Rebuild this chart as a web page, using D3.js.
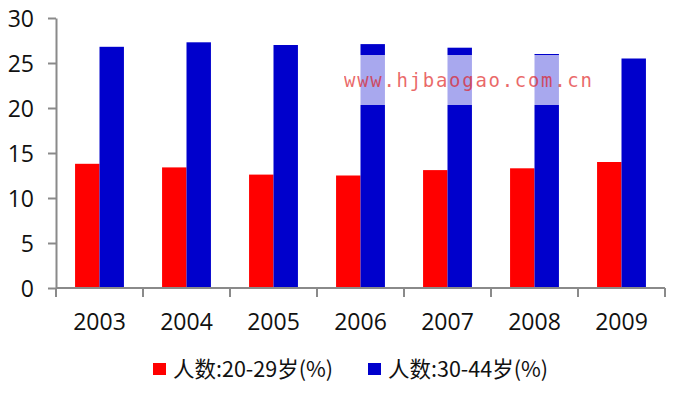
<!DOCTYPE html>
<html>
<head>
<meta charset="utf-8">
<script src="https://cdn.jsdelivr.net/npm/d3@7"></script>
<style>
  body { margin: 0; background: #fff; }
  svg text { font-family: "Open Sans", "Noto Sans", sans-serif; }
</style>
</head>
<body>
<div id="chart"></div>
<script>
// data
var years = ["2003", "2004", "2005", "2006", "2007", "2008", "2009"];
var age2029 = [13.8, 13.4, 12.6, 12.5, 13.1, 13.3, 14.0];
var age3044 = [26.8, 27.3, 27.0, 27.1, 26.7, 26.0, 25.5];
var seriesNames = ["人数:20-29岁(%)", "人数:30-44岁(%)"];
var seriesColors = ["#ff0000", "#0000cc"];
var yTicks = [0, 5, 10, 15, 20, 25, 30];

var svgWidth = 673;
var svgHeight = 397;

var margin = { top: 18, right: 8, bottom: 109, left: 56 };
var width = svgWidth - margin.left - margin.right;
var height = svgHeight - margin.top - margin.bottom;

var svg = d3.select("#chart")
  .append("svg")
  .attr("width", svgWidth)
  .attr("height", svgHeight);

var chartGroup = svg.append("g")
  .attr("transform", `translate(${margin.left}, ${margin.top})`);

// scales
var x0 = d3.scaleBand()
  .domain(years)
  .range([0, width])
  .padding(0);

var x1 = d3.scaleBand()
  .domain([0, 1])
  .range([0, x0.bandwidth()])
  .paddingInner(0)
  .paddingOuter(0.78);

var y = d3.scaleLinear()
  .domain([0, 30])
  .range([height, 0]);

var rows = years.map(function(yr, i) {
  return { year: yr, values: [age2029[i], age3044[i]] };
});

// bars
var groups = chartGroup.selectAll(".year")
  .data(rows)
  .enter()
  .append("g")
  .attr("class", "year")
  .attr("transform", d => `translate(${x0(d.year)}, 0)`);

groups.selectAll("rect")
  .data(d => d.values.map((v, k) => ({ k: k, v: v })))
  .enter()
  .append("rect")
  .attr("x", d => x1(d.k))
  .attr("width", x1.bandwidth())
  .attr("y", d => y(d.v))
  .attr("height", d => height - y(d.v))
  .attr("fill", d => seriesColors[d.k]);

// y axis
var leftAxis = d3.axisLeft(y)
  .tickValues(yTicks)
  .tickSize(8)
  .tickSizeOuter(0)
  .tickPadding(14);

var yAxis = chartGroup.append("g").call(leftAxis);
yAxis.selectAll("path, line").attr("stroke", "#8a8a8a").attr("stroke-width", 2);
yAxis.selectAll("text")
  .style("font-size", "23px")
  .attr("dy", "0.36em")
  .attr("fill", "#111");

// x axis: line, boundary ticks, centred labels
var xAxis = chartGroup.append("g")
  .attr("transform", `translate(0, ${height})`);

xAxis.append("line")
  .attr("x1", 0)
  .attr("x2", width)
  .attr("stroke", "#8a8a8a")
  .attr("stroke-width", 2);

var bounds = years.map(d => x0(d)).concat([width]);
xAxis.selectAll(".xtick")
  .data(bounds)
  .enter()
  .append("line")
  .attr("class", "xtick")
  .attr("x1", d => d)
  .attr("x2", d => d)
  .attr("y1", 0)
  .attr("y2", 9)
  .attr("stroke", "#8a8a8a")
  .attr("stroke-width", 2);

xAxis.selectAll(".xlabel")
  .data(years)
  .enter()
  .append("text")
  .attr("class", "xlabel")
  .attr("x", d => x0(d) + x0.bandwidth() / 2)
  .attr("y", 42)
  .attr("text-anchor", "middle")
  .attr("fill", "#111")
  .style("font-size", "23px")
  .text(d => d);

// legend
var legend = svg.append("g")
  .attr("transform", "translate(153, 369)");

var legendPos = [0, 215];
seriesNames.forEach(function(name, k) {
  var item = legend.append("g")
    .attr("transform", `translate(${legendPos[k]}, 0)`);
  item.append("rect")
    .attr("x", 0)
    .attr("y", -6)
    .attr("width", 13)
    .attr("height", 12)
    .attr("fill", seriesColors[k]);
  item.append("text")
    .attr("x", 20)
    .attr("y", 0)
    .attr("dy", "0.36em")
    .attr("fill", "#111")
    .style("font-family", "'Noto Sans CJK SC', sans-serif")
    .style("font-size", "21.5px")
    .text(name);
});

// watermark band and text
svg.append("rect")
  .attr("x", 320)
  .attr("y", 55)
  .attr("width", 290)
  .attr("height", 50)
  .attr("fill", "#fff")
  .attr("opacity", 0.66);

svg.append("text")
  .attr("x", 344)
  .attr("y", 87)
  .style("font-family", "'DejaVu Sans Mono', monospace")
  .style("font-size", "19px")
  .style("letter-spacing", "1.7px")
  .style("fill", "#e01818")
  .attr("opacity", 0.65)
  .text("www.hjbaogao.com.cn");
</script>
</body>
</html>
